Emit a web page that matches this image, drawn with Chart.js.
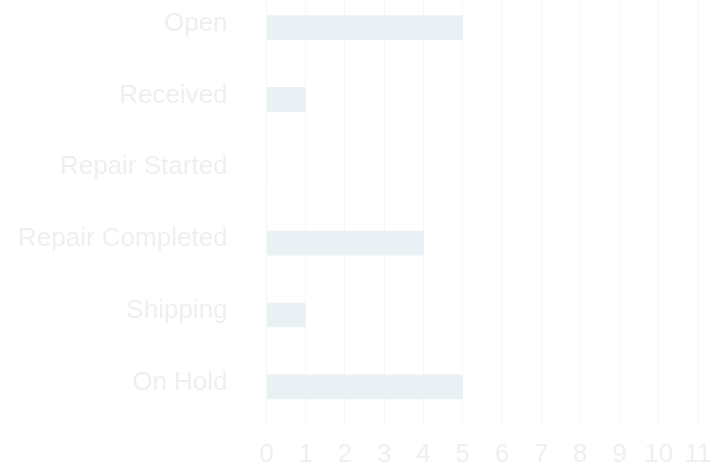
<!DOCTYPE html>
<html>
<head>
<meta charset="utf-8">
<script src="https://cdn.jsdelivr.net/npm/chart.js@4.4.0/dist/chart.umd.min.js"></script>
<style>
  html, body { margin: 0; padding: 0; background: #fff; overflow: hidden; }
  .wrap { position: absolute; left: 0; top: -27px; width: 717px; height: 513px; }
</style>
</head>
<body>
<div class="wrap"><canvas id="statusChart"></canvas></div>
<script>
const statuses = ['Open', 'Received', 'Repair Started', 'Repair Completed', 'Shipping', 'On Hold'];
const ticketCounts = [5, 1, 0, 4, 1, 5];
const countTicks = [0, 1, 2, 3, 4, 5, 6, 7, 8, 9, 10, 11];

const createStatusChart = () => {
  const ctx = document.getElementById('statusChart')?.getContext('2d');
  if (!ctx) {
    console.error('Canvas context not found');
    return;
  }

  const font = { family: '"Liberation Sans", Arial, sans-serif', size: 26 };

  window.statusChart = new Chart(ctx, {
    type: 'bar',
    data: {
      labels: statuses,
      datasets: [{
        label: 'Tickets',
        data: ticketCounts,
        backgroundColor: '#e9f1f5',
        borderWidth: 0,
        barThickness: 24,
      }],
    },
    options: {
      indexAxis: 'y',
      responsive: true,
      maintainAspectRatio: false,
      animation: false,
      layout: { padding: { left: 15, right: 19, top: 0, bottom: 0 } },
      plugins: {
        legend: { display: false },
        tooltip: { enabled: false },
      },
      scales: {
        x: {
          min: countTicks[0],
          max: countTicks[countTicks.length - 1],
          afterBuildTicks: (axis) => {
            axis.ticks = countTicks.map((v) => ({ value: v }));
          },
          afterFit: (axis) => {
            // let the last label run into the right margin
            axis.paddingLeft = 0;
            axis.paddingRight = 0;
          },
          grid: { color: '#f7f7f7', drawTicks: false },
          border: { display: false },
          ticks: { color: '#efefef', font: font, padding: 16, maxRotation: 0 },
        },
        y: {
          // hidden tick marks only reserve the gap between labels and bars
          grid: { display: false, drawTicks: true, tickLength: 36 },
          border: { display: false },
          ticks: { color: '#efefef', font: font, padding: 3, labelOffset: -4 },
        },
      },
    },
  });
};

createStatusChart();
</script>
</body>
</html>
